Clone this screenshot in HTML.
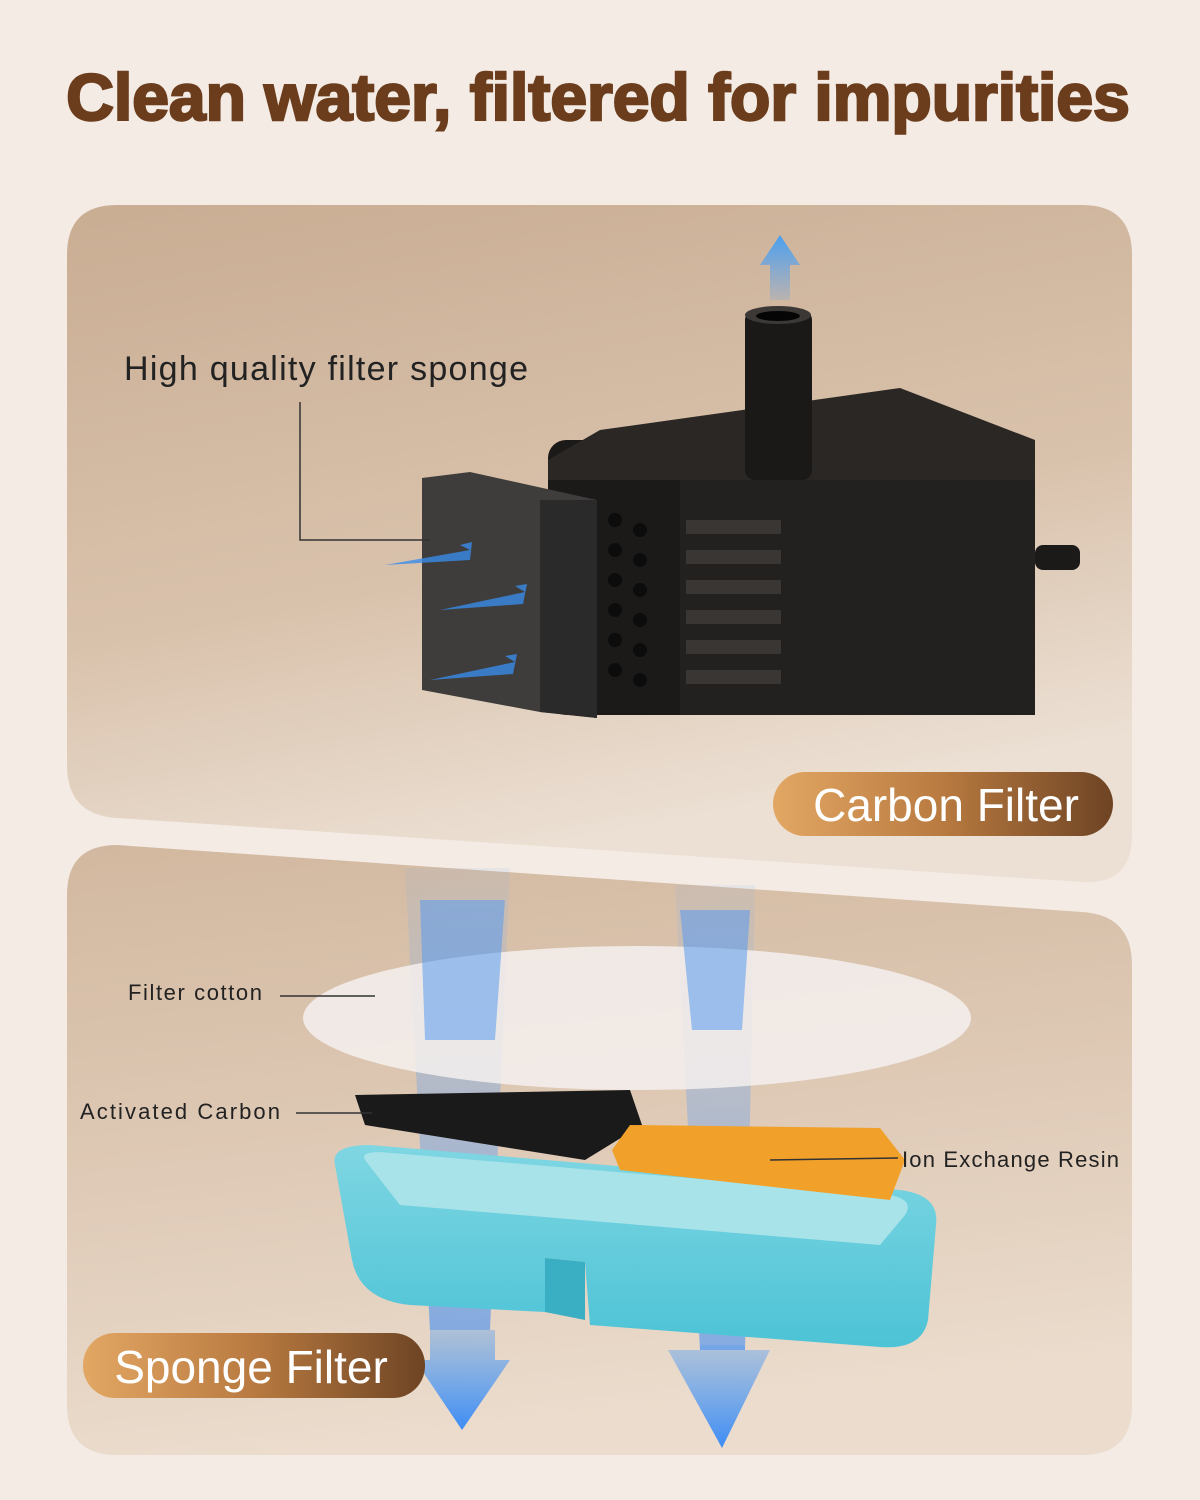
<!DOCTYPE html>
<html><head><meta charset="utf-8"><style>
html,body{margin:0;padding:0;background:#f3ebe4;}
svg{display:block}
</style></head><body>
<svg width="1200" height="1500" viewBox="0 0 1200 1500" xmlns="http://www.w3.org/2000/svg">
<defs>
<linearGradient id="p1" x1="0" y1="0" x2="0.3" y2="1">
<stop offset="0" stop-color="#c9ad93"/><stop offset="0.6" stop-color="#d9c2ac"/><stop offset="1" stop-color="#ece0d4"/></linearGradient>
<linearGradient id="p2" x1="0" y1="0" x2="0.2" y2="1">
<stop offset="0" stop-color="#d2b89f"/><stop offset="0.6" stop-color="#e0ccb9"/><stop offset="1" stop-color="#ebdccd"/></linearGradient>
<linearGradient id="pill" x1="0" y1="0" x2="1" y2="0">
<stop offset="0" stop-color="#e3a764"/><stop offset="0.5" stop-color="#b87a40"/><stop offset="1" stop-color="#6e4424"/></linearGradient>
<linearGradient id="beam" x1="0" y1="0" x2="0" y2="1">
<stop offset="0" stop-color="#7fb0ef" stop-opacity="0.15"/><stop offset="1" stop-color="#4a90f0" stop-opacity="0.9"/></linearGradient>
<linearGradient id="arr" x1="0" y1="0" x2="0" y2="1">
<stop offset="0" stop-color="#5aa0f0" stop-opacity="0.4"/><stop offset="1" stop-color="#3d8cf5"/></linearGradient>
<linearGradient id="up" x1="0" y1="1" x2="0" y2="0">
<stop offset="0" stop-color="#5aa0f0" stop-opacity="0.2"/><stop offset="1" stop-color="#4aa0f0"/></linearGradient>
<linearGradient id="tray" x1="0" y1="0" x2="0" y2="1">
<stop offset="0" stop-color="#7fd6e2"/><stop offset="1" stop-color="#4cc3d6"/></linearGradient>
</defs>
<text x="598" y="120" text-anchor="middle" font-family="Liberation Sans, sans-serif" font-weight="bold" font-size="66" fill="#6b3d1c" stroke="#6b3d1c" stroke-width="2.5">Clean water, filtered for impurities</text>

<!-- panel 1 -->
<path d="M117 205 H1082 Q1132 205 1132 255 V835 Q1132 885 1082 882 L117 818 Q67 815 67 765 V255 Q67 205 117 205 Z" fill="url(#p1)"/>
<!-- pump -->
<rect x="548" y="440" width="487" height="275" rx="18" fill="#1c1a19"/>
<path d="M548 460 L600 430 L900 388 L1035 440 L1035 480 L548 480 Z" fill="#2a2725"/>
<rect x="680" y="480" width="355" height="235" fill="#232120"/>
<g fill="#3a3633">
<rect x="686" y="520" width="95" height="14"/><rect x="686" y="550" width="95" height="14"/><rect x="686" y="580" width="95" height="14"/><rect x="686" y="610" width="95" height="14"/><rect x="686" y="640" width="95" height="14"/><rect x="686" y="670" width="95" height="14"/>
</g>
<g fill="#0d0c0c">
<circle cx="615" cy="520" r="7"/><circle cx="640" cy="530" r="7"/><circle cx="615" cy="550" r="7"/><circle cx="640" cy="560" r="7"/><circle cx="615" cy="580" r="7"/><circle cx="640" cy="590" r="7"/><circle cx="615" cy="610" r="7"/><circle cx="640" cy="620" r="7"/><circle cx="615" cy="640" r="7"/><circle cx="640" cy="650" r="7"/><circle cx="615" cy="670" r="7"/><circle cx="640" cy="680" r="7"/>
</g>
<rect x="1035" y="545" width="45" height="25" rx="8" fill="#1c1a19"/>
<rect x="745" y="310" width="67" height="170" rx="10" fill="#1a1918"/>
<ellipse cx="778" cy="315" rx="33" ry="9" fill="#3b3836"/>
<ellipse cx="778" cy="316" rx="22" ry="5" fill="#050505"/>
<path d="M770 300 V265 H760 L780 235 L800 265 H790 V300 Z" fill="url(#up)"/>
<!-- sponge -->
<path d="M422 478 L470 472 L597 500 L597 718 L540 712 L422 690 Z" fill="#3e3d3c"/>
<path d="M540 500 L597 500 L597 718 L540 712 Z" fill="#2a2a2a"/>
<path d="M385 565 L470 550 L460 545 L472 542 L470 560 Z" fill="#3a8be8" opacity="0.8"/>
<path d="M440 610 L525 592 L515 586 L527 584 L523 604 Z" fill="#3a8be8" opacity="0.8"/>
<path d="M430 680 L515 662 L505 656 L517 654 L513 674 Z" fill="#3a8be8" opacity="0.8"/>
<text x="124" y="380" font-family="Liberation Sans, sans-serif" font-size="34" fill="#222" textLength="404">High quality filter sponge</text>
<polyline points="300,402 300,540 430,540" fill="none" stroke="#333" stroke-width="1.5"/>
<rect x="773" y="772" width="340" height="64" rx="32" fill="url(#pill)"/>
<text x="946" y="821" text-anchor="middle" font-family="Liberation Sans, sans-serif" font-size="46" fill="#fff">Carbon Filter</text>

<!-- panel 2 -->
<path d="M117 845 L1082 912 Q1132 915 1132 965 V1405 Q1132 1455 1082 1455 H117 Q67 1455 67 1405 V895 Q67 845 117 845 Z" fill="url(#p2)"/>
<path d="M405 868 H510 L490 1330 H430 Z" fill="url(#beam)" opacity="0.7"/>
<path d="M675 885 H755 L745 1350 H700 Z" fill="url(#beam)" opacity="0.7"/>
<ellipse cx="637" cy="1018" rx="334" ry="72" fill="#f4f0ee" opacity="0.85"/>
<path d="M420 900 H505 L495 1040 H425 Z" fill="#5a9bef" opacity="0.55"/>
<path d="M680 910 H750 L742 1030 H692 Z" fill="#5a9bef" opacity="0.55"/>
<!-- tray -->
<path d="M335 1165 Q330 1145 370 1145 L900 1190 Q940 1195 936 1225 L928 1320 Q922 1350 880 1347 L590 1325 L585 1262 L545 1258 L545 1312 L410 1305 Q360 1300 352 1260 Z" fill="url(#tray)"/>
<path d="M365 1160 Q360 1152 380 1152 L890 1195 Q915 1200 905 1215 L880 1245 L400 1205 Z" fill="#a8e3ea"/>
<path d="M545 1258 L585 1262 L585 1320 L545 1312 Z" fill="#3aaec2"/>
<path d="M355 1095 L630 1090 L642 1125 L585 1160 L365 1125 Z" fill="#1b1a1a"/>
<path d="M630 1125 L880 1128 L905 1160 L890 1200 L620 1170 L612 1150 Z" fill="#f1a12a"/>
<path d="M430 1330 H495 V1360 H510 L462 1430 L415 1360 H430 Z" fill="url(#arr)"/>
<path d="M700 1345 H745 V1350 H770 L722 1448 L668 1350 H700 Z" fill="url(#arr)"/>
<text x="128" y="1000" font-family="Liberation Sans, sans-serif" font-size="22" fill="#222" textLength="134">Filter cotton</text>
<line x1="280" y1="996" x2="375" y2="996" stroke="#333" stroke-width="1.5"/>
<text x="80" y="1119" font-family="Liberation Sans, sans-serif" font-size="22" fill="#222" textLength="200">Activated Carbon</text>
<line x1="296" y1="1113" x2="372" y2="1113" stroke="#333" stroke-width="1.5"/>
<text x="902" y="1167" font-family="Liberation Sans, sans-serif" font-size="22" fill="#222" textLength="217">Ion Exchange Resin</text>
<line x1="770" y1="1160" x2="898" y2="1158" stroke="#333" stroke-width="1.5"/>
<rect x="83" y="1333" width="342" height="65" rx="32" fill="url(#pill)"/>
<text x="251" y="1383" text-anchor="middle" font-family="Liberation Sans, sans-serif" font-size="46" fill="#fff">Sponge Filter</text>
</svg>
</body></html>
